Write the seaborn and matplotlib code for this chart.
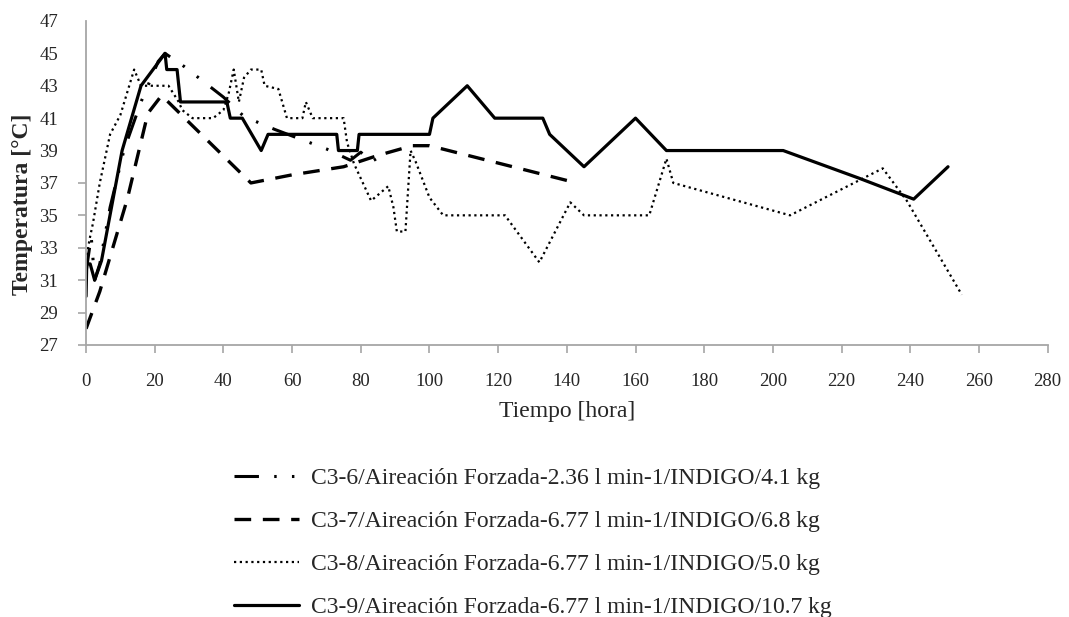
import matplotlib
matplotlib.use("Agg")
import matplotlib.pyplot as plt
import seaborn as sns
import pandas as pd

# Temperature readings (hours, °C) for each composting run
t_c36 = [0, 1.5, 2.5, 4, 7, 11, 16, 21, 23, 28.5, 40, 46, 55, 65, 70, 77, 80, 83, 87]
temp_c36 = [31.5, 33.7, 31.0, 32.0, 35.5, 39.0, 42.0, 44.5, 45.0, 44.2, 42.3, 41.1, 40.3, 39.5, 39.1, 38.4, 38.9, 38.3, 38.8]

t_c37 = [0, 4, 12, 18, 22, 48, 60, 75, 85, 95, 100, 141]
temp_c37 = [28.0, 30.3, 36.0, 41.3, 42.4, 37.0, 37.5, 38.0, 38.7, 39.3, 39.3, 37.1]

t_c38 = [0, 1, 2, 4, 7, 10, 14, 16, 24, 27, 28, 31, 37, 40, 41.5, 43, 44.5, 46, 48, 51, 52,
         56, 58.5, 63, 64, 66, 75, 76, 78, 83, 88, 89.5, 90.5, 93, 94.5, 96, 100, 104, 122,
         132, 141, 145, 164, 169, 171, 205, 232, 239, 255]
temp_c38 = [32.2, 33.5, 34.5, 37.0, 40.0, 41.2, 44.0, 43.0, 43.0, 42.0, 41.5, 41.0, 41.0, 41.5,
            42.5, 44.0, 42.0, 43.5, 44.0, 44.0, 43.0, 42.8, 41.0, 41.0, 42.0, 41.0, 41.0, 39.5,
            38.2, 35.9, 36.8, 35.5, 34.0, 34.0, 39.0, 38.3, 36.1, 35.0, 35.0, 32.1, 35.8, 35.0,
            35.0, 38.5, 37.0, 35.0, 37.9, 35.9, 30.1]

t_c39 = [0, 0.2, 1.2, 2.5, 4.5, 10.5, 16, 23, 23.5, 26.5, 27.5, 41, 42, 45.5, 51, 53, 73, 73.5,
         79, 79.5, 100, 101, 111, 119, 133, 135, 145, 160, 169, 203, 225, 241, 251]
temp_c39 = [30.0, 32.0, 32.0, 31.0, 32.2, 39.0, 43.0, 45.0, 44.0, 44.0, 42.0, 42.0, 41.0, 41.0,
            39.0, 40.0, 40.0, 39.0, 39.0, 40.0, 40.0, 41.0, 43.0, 41.0, 41.0, 40.0, 38.0, 41.0,
            39.0, 39.0, 37.3, 36.0, 38.0]

labels = [
    "C3-6/Aireación Forzada-2.36 l min-1/INDIGO/4.1 kg",
    "C3-7/Aireación Forzada-6.77 l min-1/INDIGO/6.8 kg",
    "C3-8/Aireación Forzada-6.77 l min-1/INDIGO/5.0 kg",
    "C3-9/Aireación Forzada-6.77 l min-1/INDIGO/10.7 kg",
]
x_ticks = list(range(0, 281, 20))
y_ticks = list(range(27, 48, 2))

sns.set_theme(style="white")
plt.rcParams["font.family"] = ["Liberation Serif", "DejaVu Serif"]

series = [
    (t_c36, temp_c36, dict(linewidth=2.2, linestyle=(0, (8, 5, 0.8, 5, 0.8, 5)))),
    (t_c37, temp_c37, dict(linewidth=2.4, linestyle=(0, (5, 3.5)))),
    (t_c38, temp_c38, dict(linewidth=1.6, linestyle=(0, (1, 1.6)))),
    (t_c39, temp_c39, dict(linewidth=2.3, linestyle="-")),
]

fig = plt.figure(figsize=(10.69, 6.17), dpi=100)
ax = fig.add_axes([0.0805, 0.441, 0.8995, 0.525])

handles = []
for (t, temp, style), lab in zip(series, labels):
    df = pd.DataFrame({"Tiempo": t, "Temperatura": temp})
    sns.lineplot(data=df, x="Tiempo", y="Temperatura", ax=ax, color="black",
                 estimator=None, sort=False, legend=False, **style)
    line = ax.lines[-1]
    line.set_label(lab)
    handles.append(line)

ax.set_xlim(0, 280)
ax.set_ylim(27, 47)
ax.set_xticks(x_ticks)
ax.set_yticks(y_ticks)

for side in ["top", "right"]:
    ax.spines[side].set_visible(False)
for side in ["left", "bottom"]:
    ax.spines[side].set_color("#a6a6a6")
    ax.spines[side].set_linewidth(1.3)

ax.tick_params(axis="both", which="major", direction="out", length=6, width=1.2,
               color="#a6a6a6", labelcolor="#262626", labelsize=13.5,
               left=True, bottom=True)
ax.tick_params(axis="y", pad=14)
ax.tick_params(axis="x", pad=14)

# tick marks on the upper part of the temperature axis are not drawn
for val, tick in zip(y_ticks, ax.yaxis.get_major_ticks()):
    if val > 37:
        tick.tick1line.set_visible(False)

ax.set_xlabel("Tiempo [hora]", fontsize=17, color="#262626", labelpad=8)
ax.set_ylabel("Temperatura [°C]", fontsize=17, fontweight="bold", color="#262626")
ax.yaxis.set_label_coords(-0.055, 0.435)

fig.legend(handles=handles, labels=labels, loc="upper left",
           bbox_to_anchor=(0.199, 0.276), frameon=False, fontsize=17,
           handlelength=2.75, handletextpad=0.5, labelspacing=0.9,
           borderpad=0.4, borderaxespad=0.5, labelcolor="#262626")

fig.savefig("out.png", dpi=100, facecolor="white")
